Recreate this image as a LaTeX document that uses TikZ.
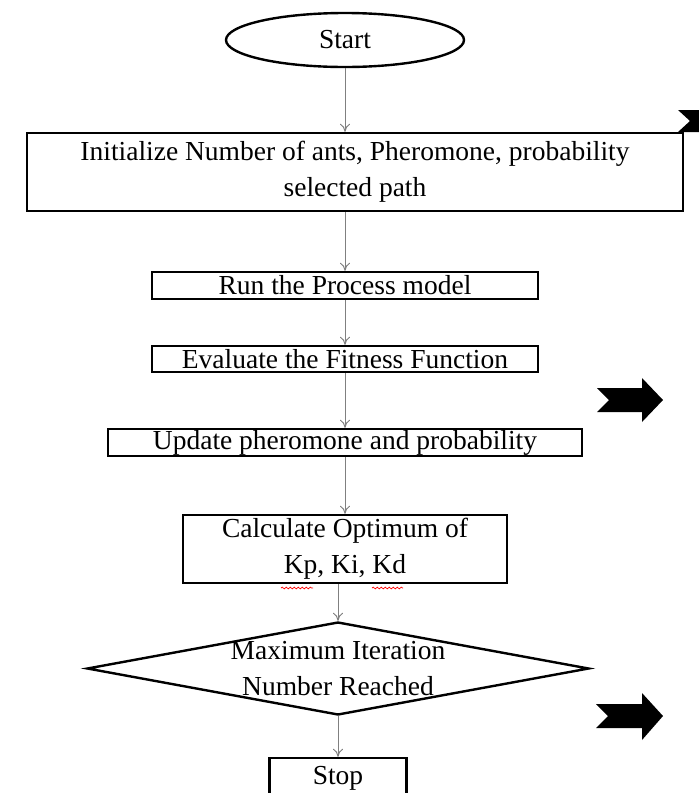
\documentclass[tikz,border=0pt]{standalone}
\usepackage{fontspec}
\setmainfont{Liberation Serif}
\usetikzlibrary{shapes.geometric,arrows.meta,decorations.pathmorphing}

\begin{document}
\begin{tikzpicture}[x=1pt,y=-1pt,
  box/.style={draw=black,line width=2.4pt,inner sep=0pt},
  flow/.style={draw=gray,line width=1pt,-{To[length=8pt,width=10pt]}},
  every label/.style={font=\fontsize{27.5}{36}\selectfont,align=center,inner sep=0pt},
  squiggle/.style={draw=red,line width=0.7pt,decorate,decoration={snake,amplitude=0.9pt,segment length=4pt}}]
\useasboundingbox (0,0) rectangle (699,793);
\clip (0,0) rectangle (699,793);
\node [box,ellipse,minimum width=238pt,minimum height=54pt,label=center:Start] (start) at (345,40) {};
\node [box,rectangle,minimum width=656pt,minimum height=78pt,
  label=center:{Initialize Number of ants, Pheromone, probability\\selected path}] (init) at (355,172) {};
\node [box,rectangle,minimum width=386pt,minimum height=27pt,
  label=center:Run the Process model] (run) at (345,285.5) {};
\node [box,rectangle,minimum width=386pt,minimum height=26pt,
  label=center:Evaluate the Fitness Function] (fit) at (345,359) {};
\node [box,rectangle,minimum width=474pt,minimum height=27pt,
  label=center:Update pheromone and probability] (upd) at (345,442.5) {};
\node [box,rectangle,minimum width=324pt,minimum height=68pt,
  label=center:{Calculate Optimum of\\Kp, Ki, Kd}] (calc) at (345,549) {};
\node [box,diamond,minimum width=502pt,minimum height=93pt,
  label=center:{Maximum Iteration\\Number Reached}] (iter) at (338,668.5) {};
\node [box,rectangle,minimum width=137pt,minimum height=40pt,
  label=center:Stop] (stop) at (338,778) {};
\draw [flow] (start.south) -- (start.south |- init.north);
\draw [flow] (start.south |- init.south) -- (run.north);
\draw [flow] (run.south) -- (fit.north);
\draw [flow] (fit.south) -- (upd.north);
\draw [flow] (upd.south) -- (calc.north);
\draw [flow] (iter.north |- calc.south) -- (iter.north);
\draw [flow] (iter.south) -- (stop.north);
\draw [squiggle] (281,588) -- (313,588);
\draw [squiggle] (372,588) -- (403,588);
\fill [black] (678,110) -- (723,110) -- (723,100) -- (744,121) -- (723,143) -- (723,132) -- (678,132) -- (690,121) -- cycle;
\fill [black] (597,388) -- (642,388) -- (642,378) -- (663,400) -- (642,422) -- (642,412) -- (597,412) -- (609,400) -- cycle;
\fill [black] (596,704) -- (642,704) -- (642,693) -- (663,716) -- (642,740) -- (642,728) -- (596,728) -- (608,716) -- cycle;
\end{tikzpicture}
\end{document}
